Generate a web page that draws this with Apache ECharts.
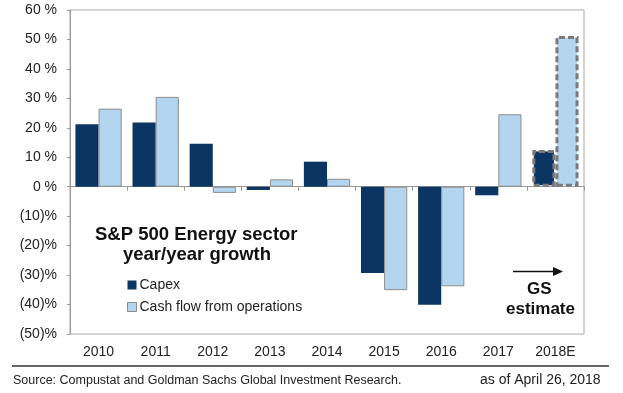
<!DOCTYPE html>
<html><head><meta charset="utf-8">
<script src="https://cdn.jsdelivr.net/npm/echarts@6/dist/echarts.min.js"></script>
<style>html,body{margin:0;padding:0;background:#fff}#c{width:623px;height:393px}</style>
</head><body><div id="c"></div>
<script>
var categories = ['2010','2011','2012','2013','2014','2015','2016','2017','2018E'];
var capex = [21.2, 21.8, 14.6, -1.1, 8.5, -29.3, -40.1, -2.9, 12.5];
var cashFlow = [26.5, 30.5, -2.1, 2.5, 2.7, -35.1, -33.8, 24.6, 51.2];
var estimateIndex = 8;
var yTicks = {min: -50, max: 60, interval: 10};

var FONT = '"Liberation Sans", Arial, sans-serif';
var DARK = '#0b3562', LIGHT = '#b4d5f0', EDGE = '#8c8c8c';

function mk(values, color, border) {
  return values.map(function (v, i) {
    var it = {value: v, itemStyle: {color: color, borderColor: border, borderWidth: border ? 1 : 0}};
    if (i === estimateIndex) {
      it.itemStyle.borderColor = '#7a7a7a';
      it.itemStyle.borderWidth = 3;
      it.itemStyle.borderType = [6, 3];
    }
    return it;
  });
}

var chart = echarts.init(document.getElementById('c'), null, {renderer: 'canvas'});
chart.setOption({
  animation: false,
  backgroundColor: '#fff',
  textStyle: {fontFamily: FONT},
  grid: {left: 70, right: 39, top: 10, bottom: 59, show: true, borderColor: '#a6a6a6', borderWidth: 1, backgroundColor: 'transparent'},
  legend: {
    orient: 'vertical', left: 122, top: 273, itemWidth: 9, itemHeight: 9, itemGap: 8,
    icon: 'rect', selectedMode: false,
    textStyle: {fontFamily: FONT, fontSize: 14, color: '#222', padding: [0,0,0,-2]},
    data: [{name: 'Capex', itemStyle: {color: DARK, borderWidth: 0}}, {name: 'Cash flow from operations', itemStyle: {color: LIGHT, borderColor: EDGE, borderWidth: 1}}]
  },
  xAxis: [{
    type: 'category', data: categories, position: 'bottom',
    axisLine: {show: false, onZero: false}, axisTick: {show: false},
    axisLabel: {interval: 0, fontFamily: FONT, fontSize: 14, color: '#222', margin: 11}
  }, {
    type: 'category', data: categories, position: 'bottom',
    axisLine: {show: true, onZero: true, lineStyle: {color: '#999', width: 1}},
    axisTick: {show: true, interval: 0, length: 4, lineStyle: {color: '#999'}},
    axisLabel: {show: false}
  }],
  yAxis: {
    type: 'value', min: yTicks.min, max: yTicks.max, interval: yTicks.interval,
    axisLine: {show: true, lineStyle: {color: '#999'}},
    axisTick: {show: true, length: 3, lineStyle: {color: '#999'}},
    splitLine: {show: false},
    axisLabel: {fontFamily: FONT, fontSize: 14, color: '#222', margin: 13,
      formatter: function (v) { return v >= 0 ? v + ' %' : '(' + (-v) + ')%'; }}
  },
  series: [
    {name: 'Capex', type: 'bar', xAxisIndex: 0, data: mk(capex, DARK, null), barGap: '0%', barCategoryGap: '19%'},
    {name: 'Cash flow from operations', type: 'bar', xAxisIndex: 0, data: mk(cashFlow, LIGHT, EDGE), barGap: '0%', barCategoryGap: '19%'}
  ],
  graphic: [
    {type: 'text', left: 95, top: 225, style: {text: 'S&P 500 Energy sector', font: 'bold 18.5px ' + FONT, fill: '#111'}},
    {type: 'text', left: 123, top: 245, style: {text: 'year/year growth', font: 'bold 18.5px ' + FONT, fill: '#111'}},
    {type: 'line', shape: {x1: 513, y1: 271.5, x2: 555, y2: 271.5}, style: {stroke: '#111', lineWidth: 1.5}},
    {type: 'polygon', shape: {points: [[553, 267], [563, 271.5], [553, 276]]}, style: {fill: '#111'}},
    {type: 'text', left: 527, top: 281, style: {text: 'GS', font: 'bold 17px ' + FONT, fill: '#111'}},
    {type: 'text', left: 506, top: 301, style: {text: 'estimate', font: 'bold 17px ' + FONT, fill: '#111'}},
    {type: 'line', shape: {x1: 12, y1: 366, x2: 609, y2: 366}, style: {stroke: '#666', lineWidth: 2}},
    {type: 'text', left: 13, top: 374, style: {text: 'Source: Compustat and Goldman Sachs Global Investment Research.', font: '12.5px ' + FONT, fill: '#222'}},
    {type: 'text', left: 480, top: 373, style: {text: 'as of April 26, 2018', font: '14px ' + FONT, fill: '#222'}}
  ]
});
</script></body></html>
